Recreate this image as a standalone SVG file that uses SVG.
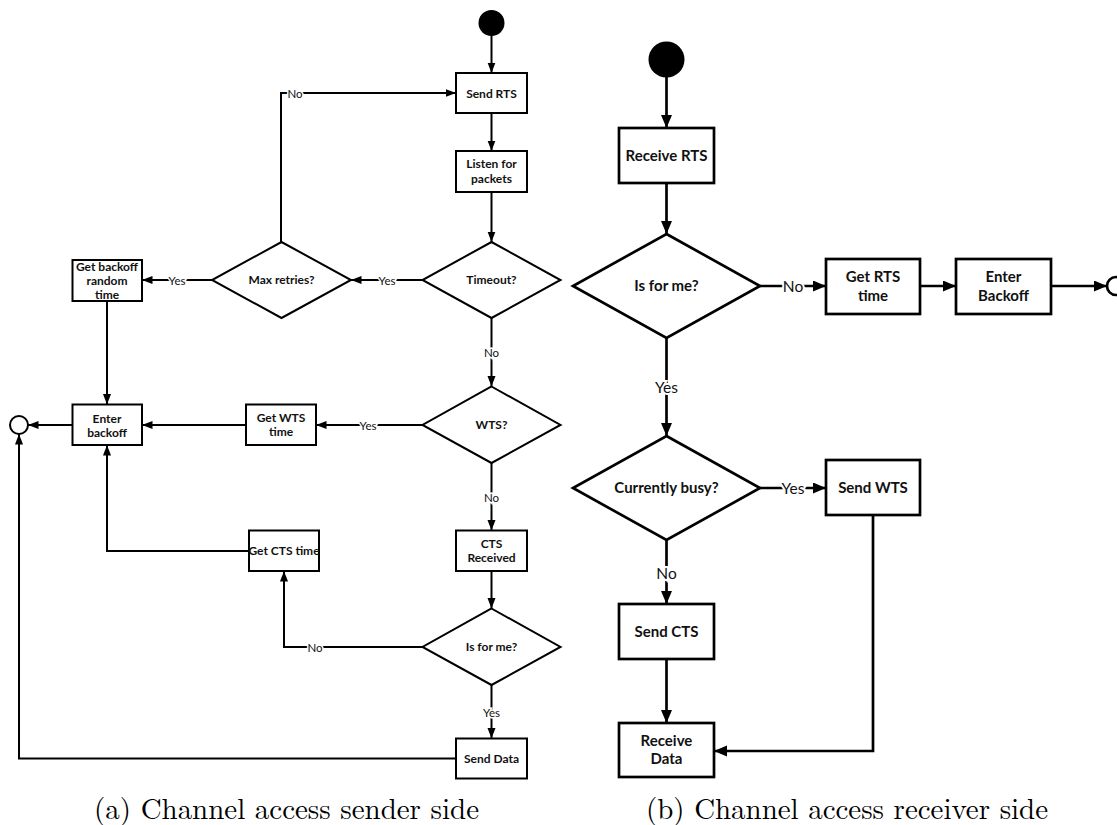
<svg xmlns="http://www.w3.org/2000/svg" width="1117" height="825" viewBox="0 0 1117 825">
<style>
.bg{fill:#fff}
.ln{fill:none;stroke:#000;stroke-width:2}
.lnR{fill:none;stroke:#000;stroke-width:2.7}
.nd{fill:#fff;stroke:#000;stroke-width:2}
.ndR{fill:#fff;stroke:#000;stroke-width:2.7}
.t{font-family:Lato,"Open Sans","Liberation Sans",sans-serif;font-weight:bold;font-size:12px;text-anchor:middle;fill:#111}
.tR{font-family:Lato,"Open Sans","Liberation Sans",sans-serif;font-weight:bold;font-size:15px;text-anchor:middle;fill:#111}
.lb{font-family:Lato,"Open Sans","Liberation Sans",sans-serif;font-size:11.5px;text-anchor:middle;fill:#111;stroke:#fff;stroke-width:3;paint-order:stroke;dominant-baseline:central}
.lbR{font-family:Lato,"Open Sans","Liberation Sans",sans-serif;font-size:15.5px;text-anchor:middle;fill:#111;stroke:#fff;stroke-width:4;paint-order:stroke;dominant-baseline:central}
.cap{font-family:"Latin Modern Roman","Liberation Serif",serif;font-size:29px;fill:#000}
</style>
<defs>
<marker id="a" markerUnits="userSpaceOnUse" markerWidth="11" markerHeight="9" refX="10.5" refY="4" orient="auto"><path d="M0,0 L10.5,4 L0,8 z" fill="#000"/></marker>
<marker id="aR" markerUnits="userSpaceOnUse" markerWidth="14" markerHeight="12" refX="13" refY="5.5" orient="auto"><path d="M0,0 L13,5.5 L0,11 z" fill="#000"/></marker>
</defs>
<rect class="bg" x="0" y="0" width="1117" height="825"/>

<g id="connectors">
<!-- left -->
<line class="ln" x1="491.5" y1="36" x2="491.5" y2="73" marker-end="url(#a)"/>
<line class="ln" x1="491.5" y1="113" x2="491.5" y2="151" marker-end="url(#a)"/>
<line class="ln" x1="491.5" y1="192" x2="491.5" y2="242" marker-end="url(#a)"/>
<line class="ln" x1="422.5" y1="280" x2="351" y2="280" marker-end="url(#a)"/>
<line class="ln" x1="212" y1="280" x2="142" y2="280" marker-end="url(#a)"/>
<polyline class="ln" points="281,242 281,93 456,93" marker-end="url(#a)"/>
<line class="ln" x1="491.5" y1="318" x2="491.5" y2="386.5" marker-end="url(#a)"/>
<line class="ln" x1="422.5" y1="425" x2="316" y2="425" marker-end="url(#a)"/>
<line class="ln" x1="246" y1="425" x2="142" y2="425" marker-end="url(#a)"/>
<line class="ln" x1="107" y1="301" x2="107" y2="404.5" marker-end="url(#a)"/>
<line class="ln" x1="72.5" y1="425" x2="28" y2="425" marker-end="url(#a)"/>
<line class="ln" x1="491.5" y1="463" x2="491.5" y2="530.5" marker-end="url(#a)"/>
<line class="ln" x1="491.5" y1="571" x2="491.5" y2="608.5" marker-end="url(#a)"/>
<polyline class="ln" points="422.5,647 284,647 284,571" marker-end="url(#a)"/>
<polyline class="ln" points="249,551 107,551 107,445" marker-end="url(#a)"/>
<line class="ln" x1="491.5" y1="685" x2="491.5" y2="738.5" marker-end="url(#a)"/>
<polyline class="ln" points="456,758.5 19,758.5 19,434" marker-end="url(#a)"/>
<text class="lb" x="295" y="93">No</text>
<text class="lb" x="387" y="280">Yes</text>
<text class="lb" x="177" y="280">Yes</text>
<text class="lb" x="491.5" y="352">No</text>
<text class="lb" x="368" y="425">Yes</text>
<text class="lb" x="491.5" y="497">No</text>
<text class="lb" x="315" y="647">No</text>
<text class="lb" x="491.5" y="712">Yes</text>
<!-- right -->
<line class="lnR" x1="666.5" y1="77" x2="666.5" y2="128" marker-end="url(#aR)"/>
<line class="lnR" x1="666.5" y1="183" x2="666.5" y2="234" marker-end="url(#aR)"/>
<line class="lnR" x1="760" y1="286" x2="826" y2="286" marker-end="url(#aR)"/>
<line class="lnR" x1="920" y1="286" x2="956" y2="286" marker-end="url(#aR)"/>
<line class="lnR" x1="1051" y1="286" x2="1107" y2="286" marker-end="url(#aR)"/>
<line class="lnR" x1="666.5" y1="338" x2="666.5" y2="436" marker-end="url(#aR)"/>
<line class="lnR" x1="760" y1="488" x2="826" y2="488" marker-end="url(#aR)"/>
<line class="lnR" x1="666.5" y1="540" x2="666.5" y2="604" marker-end="url(#aR)"/>
<line class="lnR" x1="666.5" y1="659" x2="666.5" y2="723" marker-end="url(#aR)"/>
<polyline class="lnR" points="873,515 873,751 714,751" marker-end="url(#aR)"/>
<text class="lbR" x="793" y="286">No</text>
<text class="lbR" x="666.5" y="387">Yes</text>
<text class="lbR" x="793" y="488">Yes</text>
<text class="lbR" x="666.5" y="573">No</text>
</g>

<!-- left (sender) nodes -->
<g id="s-start"><circle cx="491.5" cy="23" r="13" fill="#000"/></g>
<g id="s-send-rts"><rect class="nd" x="456" y="73" width="71" height="40"/><text class="t" x="491.5" y="97.5">Send RTS</text></g>
<g id="s-listen"><rect class="nd" x="456" y="151" width="71" height="41"/><text class="t" x="491.5" y="168">Listen for</text><text class="t" x="491.5" y="182.5">packets</text></g>
<g id="s-timeout"><polygon class="nd" points="491.5,242 560.5,280 491.5,318 422.5,280"/><text class="t" x="491.5" y="284">Timeout?</text></g>
<g id="s-maxretries"><polygon class="nd" points="281.5,242 351,280 281.5,318 212,280"/><text class="t" x="281.5" y="284">Max retries?</text></g>
<g id="s-backoff-time"><rect class="nd" x="72.5" y="260" width="69.5" height="41"/><text class="t" x="107" y="271">Get backoff</text><text class="t" x="107" y="285">random</text><text class="t" x="107" y="298.5">time</text></g>
<g id="s-enter-backoff"><rect class="nd" x="72.5" y="404.5" width="69.5" height="40.5"/><text class="t" x="107" y="422.5">Enter</text><text class="t" x="107" y="436.5">backoff</text></g>
<g id="s-end"><circle cx="19" cy="425" r="9" fill="#fff" stroke="#000" stroke-width="2"/></g>
<g id="s-wts-time"><rect class="nd" x="246" y="404.5" width="70" height="40.5"/><text class="t" x="281" y="421.5">Get WTS</text><text class="t" x="281" y="436">time</text></g>
<g id="s-wts"><polygon class="nd" points="491.5,386.5 560.5,425 491.5,463 422.5,425"/><text class="t" x="491.5" y="429">WTS?</text></g>
<g id="s-cts-received"><rect class="nd" x="456" y="530.5" width="71" height="40.5"/><text class="t" x="491.5" y="547.5">CTS</text><text class="t" x="491.5" y="562">Received</text></g>
<g id="s-cts-time"><rect class="nd" x="249" y="530.5" width="70" height="40.5"/><text class="t" x="284" y="555">Get CTS time</text></g>
<g id="s-isforme"><polygon class="nd" points="491.5,608.5 560.5,647 491.5,685 422.5,647"/><text class="t" x="491.5" y="651">Is for me?</text></g>
<g id="s-send-data"><rect class="nd" x="456" y="738.5" width="71" height="40"/><text class="t" x="491.5" y="762.5">Send Data</text></g>

<!-- right (receiver) nodes -->
<g id="r-start"><circle cx="666.5" cy="59.5" r="18" fill="#000"/></g>
<g id="r-receive-rts"><rect class="ndR" x="619" y="128" width="95" height="55"/><text class="tR" x="666.5" y="160.5">Receive RTS</text></g>
<g id="r-isforme"><polygon class="ndR" points="666.5,234 760,286 666.5,338 573,286"/><text class="tR" x="666.5" y="291">Is for me?</text></g>
<g id="r-rts-time"><rect class="ndR" x="826" y="259" width="94" height="55"/><text class="tR" x="873" y="282">Get RTS</text><text class="tR" x="873" y="301">time</text></g>
<g id="r-enter-backoff"><rect class="ndR" x="956" y="259" width="95" height="55"/><text class="tR" x="1003.5" y="282">Enter</text><text class="tR" x="1003.5" y="301">Backoff</text></g>
<g id="r-end"><circle cx="1116" cy="286" r="9" fill="#fff" stroke="#000" stroke-width="2.7"/></g>
<g id="r-busy"><polygon class="ndR" points="666.5,436 760,488 666.5,540 573,488"/><text class="tR" x="666.5" y="493">Currently busy?</text></g>
<g id="r-send-wts"><rect class="ndR" x="826" y="460" width="94" height="55"/><text class="tR" x="873" y="492.5">Send WTS</text></g>
<g id="r-send-cts"><rect class="ndR" x="619" y="604" width="95" height="55"/><text class="tR" x="666.5" y="636.5">Send CTS</text></g>
<g id="r-receive-data"><rect class="ndR" x="619" y="723" width="95" height="54"/><text class="tR" x="666.5" y="745.5">Receive</text><text class="tR" x="666.5" y="764">Data</text></g>

<g id="captions">
<text class="cap" x="94" y="819" textLength="385" lengthAdjust="spacingAndGlyphs">(a) Channel access sender side</text>
<text class="cap" x="646" y="819" textLength="402" lengthAdjust="spacingAndGlyphs">(b) Channel access receiver side</text>
</g>
</svg>
